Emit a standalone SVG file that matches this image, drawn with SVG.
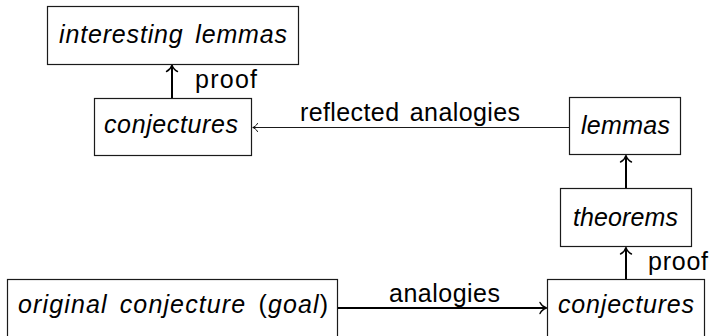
<svg xmlns="http://www.w3.org/2000/svg" width="714" height="336" viewBox="0 0 714 336">
<defs>
<style>
.box{fill:#fff;stroke:#1a1a1a;stroke-width:1.2}
.node{font-family:"Liberation Sans",Arial,sans-serif;font-size:25px;font-style:italic;fill:#000;text-anchor:middle;word-spacing:4px}
.lbl{font-family:"Liberation Sans",Arial,sans-serif;font-size:25px;fill:#000;word-spacing:3px}
.up{font-style:normal}
.thick{stroke:#000;stroke-width:2;fill:none}
.thin{stroke:#1a1a1a;stroke-width:1;fill:none}
</style>
<marker id="ah" markerUnits="userSpaceOnUse" viewBox="-9 -7 11 14" refX="0" refY="0" markerWidth="11" markerHeight="14" orient="auto" overflow="visible">
<path d="M-6,-5.5 C-4.5,-2.5 -1.5,-0.6 0.5,0 C-1.5,0.6 -4.5,2.5 -6,5.5" fill="none" stroke="#000" stroke-width="1.4" stroke-linecap="round"/>
</marker>
<marker id="ahs" markerUnits="userSpaceOnUse" viewBox="-7 -5 9 10" refX="0" refY="0" markerWidth="9" markerHeight="10" orient="auto" overflow="visible">
<path d="M-4.5,-4 C-3.4,-1.8 -1.2,-0.4 0.3,0 C-1.2,0.4 -3.4,1.8 -4.5,4" fill="none" stroke="#000" stroke-width="1" stroke-linecap="round"/>
</marker>
</defs>
<rect width="714" height="336" fill="#fff"/>
<g id="connectors">
<line class="thick" x1="172" y1="98" x2="172" y2="65.5" marker-end="url(#ah)"/>
<text class="lbl" x="195" y="88" textLength="62">proof</text>
<line class="thin" x1="569" y1="127.5" x2="253" y2="127.5" marker-end="url(#ahs)"/>
<text class="lbl" x="300" y="121" textLength="220">reflected analogies</text>
<line class="thick" x1="626" y1="188" x2="626" y2="156" marker-end="url(#ah)"/>
<line class="thick" x1="626" y1="279" x2="626" y2="248" marker-end="url(#ah)"/>
<text class="lbl" x="648" y="270" textLength="60">proof</text>
<line class="thick" x1="338" y1="308" x2="546" y2="308" marker-end="url(#ah)"/>
<text class="lbl" x="389" y="302" textLength="111">analogies</text>
</g>
<g id="n-interesting">
<rect class="box" x="47.5" y="6.5" width="251" height="58"/>
<text class="node" x="173" y="43" textLength="228">interesting lemmas</text>
</g>
<g id="n-conjectures-top">
<rect class="box" x="94.5" y="98.5" width="157" height="57"/>
<text class="node" x="171" y="133" textLength="134">conjectures</text>
</g>
<g id="n-lemmas">
<rect class="box" x="569.5" y="97.5" width="111" height="57"/>
<text class="node" x="625.5" y="134" textLength="89">lemmas</text>
</g>
<g id="n-theorems">
<rect class="box" x="560.5" y="188.5" width="131" height="58"/>
<text class="node" x="625.5" y="226" textLength="105">theorems</text>
</g>
<g id="n-original">
<rect class="box" x="7.5" y="279.5" width="330" height="60"/>
<text class="node" x="173" y="313" textLength="310">original conjecture <tspan class="up">(</tspan>goal<tspan class="up">)</tspan></text>
</g>
<g id="n-conjectures-bottom">
<rect class="box" x="547.5" y="279.5" width="157" height="60"/>
<text class="node" x="626" y="313" textLength="136">conjectures</text>
</g>
</svg>
